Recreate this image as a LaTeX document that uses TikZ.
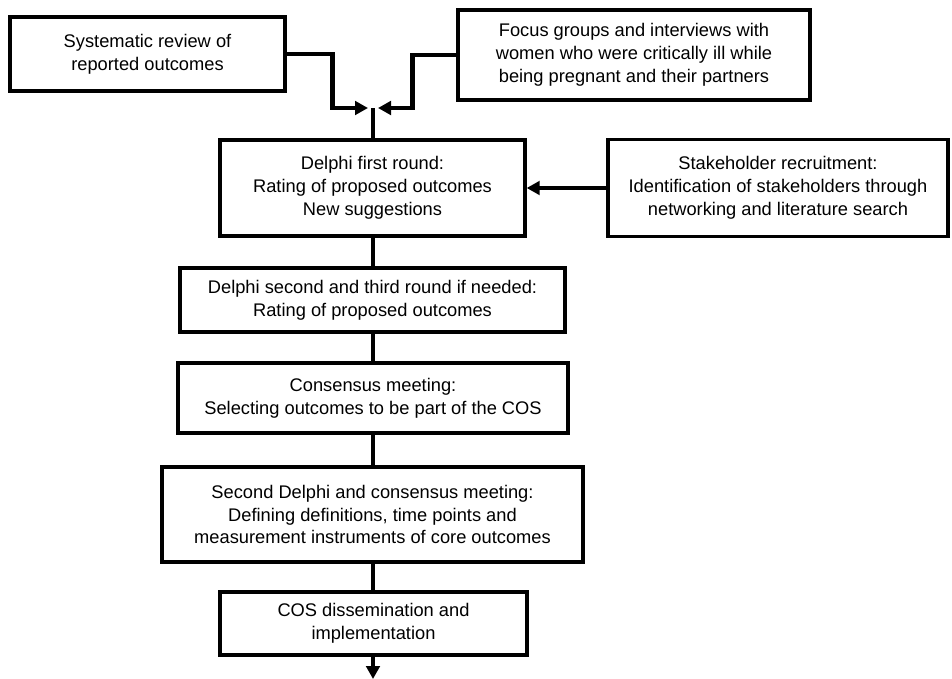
\documentclass[tikz,border=0pt]{standalone}
\usepackage{fontspec}
\setmainfont{Liberation Sans}
\usetikzlibrary{arrows.meta,positioning,calc}
\tikzset{
    every picture/.style={line join=miter},
    stagebox/.style={draw=black,fill=white,line width=1.9pt,
      inner sep=2pt,align=center,font=\fontsize{10.4}{13}\selectfont},
    linkline/.style={draw=black,line width=2.6pt},
    flowarrow/.style={linkline,-{Triangle[length=2.6mm,width=2.7mm]}}
}
\begin{document}
\begin{tikzpicture}[x=0.2mm,y=-0.2mm]
  \useasboundingbox (0,0) rectangle (952,679);
  % sources
  \node[stagebox,minimum width=55mm,minimum height=14.8mm] (review) at (147.5,54)
    {Systematic review of\\reported outcomes};
  \node[stagebox,minimum width=70.4mm,minimum height=18mm] (focus) at (634,55)
    {Focus groups and interviews with\\women who were critically ill while\\being pregnant and their partners};
  \coordinate (merge) at (373,108);
  % main column
  \node[stagebox,minimum width=61mm,minimum height=19.2mm] (delphione) at (372.5,188)
    {Delphi first round:\\Rating of proposed outcomes\\New suggestions};
  \node[stagebox,minimum width=68mm,minimum height=19.4mm] (recruit) at (778,188)
    {Stakeholder recruitment:\\Identification of stakeholders through\\networking and literature search};
  \node[stagebox,minimum width=77mm,minimum height=12.8mm] (delphitwo) at (372.5,300)
    {Delphi second and third round if needed:\\Rating of proposed outcomes};
  \node[stagebox,minimum width=78mm,minimum height=14mm] (consensus) at (373,398)
    {Consensus meeting:\\Selecting outcomes to be part of the COS};
  \node[stagebox,minimum width=84.2mm,minimum height=19mm] (second) at (372.5,514.5)
    {Second Delphi and consensus meeting:\\Defining definitions, time points and\\measurement instruments of core outcomes};
  \node[stagebox,minimum width=61.4mm,minimum height=12.6mm] (dissem) at (373.5,623.5)
    {COS dissemination and\\implementation};
  \coordinate (out) at (373,679);
  % connectors
  \draw[flowarrow] (review.east) -- ++(46,0) |- ([xshift=-1mm]merge);
  \draw[flowarrow] (focus.west) -- ++(-44,0) |- ([xshift=1mm]merge);
  \draw[linkline] (merge) -- (delphione.north -| merge);
  \draw[flowarrow] (recruit.west) -- (delphione.east);
  \draw[linkline] (delphione.south -| merge) -- (delphitwo.north -| merge);
  \draw[linkline] (delphitwo.south -| merge) -- (consensus.north -| merge);
  \draw[linkline] (consensus.south -| merge) -- (second.north -| merge);
  \draw[linkline] (second.south -| merge) -- (dissem.north -| merge);
  \draw[flowarrow] (dissem.south -| merge) -- (out);
\end{tikzpicture}
\end{document}
